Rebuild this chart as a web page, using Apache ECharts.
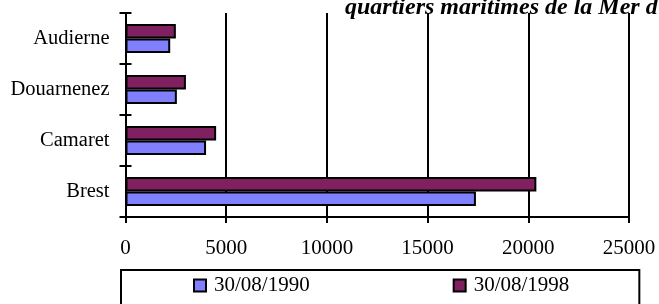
<!DOCTYPE html>
<html>
<head>
<meta charset="utf-8">
<script src="https://cdn.jsdelivr.net/npm/echarts@6/dist/echarts.min.js"></script>
<style>
html, body { margin: 0; padding: 0; background: #fff; }
#chart { width: 659px; height: 304px; }
</style>
</head>
<body>
<div id="chart"></div>
<script>
var categories = ['Brest', 'Camaret', 'Douarnenez', 'Audierne'];
var seriesNames = ['30/08/1990', '30/08/1998'];
var values1990 = [17400, 4000, 2550, 2220];
var values1998 = [20400, 4500, 3000, 2500];
var xTicks = [0, 5000, 10000, 15000, 20000, 25000];
var titleText = "quartiers maritimes de la Mer d'Iroise";

var font = '"Liberation Serif", "Times New Roman", serif';
var chart = echarts.init(document.getElementById('chart'));

var option = {
    animation: false,
    backgroundColor: '#fff',
    title: {
        text: titleText,
        left: 345,
        top: -4,
        padding: 0,
        textStyle: {
            fontFamily: font,
            fontSize: 24,
            fontWeight: 'bold',
            fontStyle: 'italic',
            color: '#000'
        }
    },
    grid: {
        left: 125.5,
        right: 30,
        top: 13,
        bottom: 87
    },
    legend: {
        data: seriesNames,
        left: 121,
        top: 270,
        padding: [5, 70, 40, 72],
        itemGap: 143,
        itemWidth: 12,
        itemHeight: 12,
        icon: 'rect',
        borderColor: '#000',
        borderWidth: 2,
        textStyle: {
            fontFamily: font,
            fontSize: 21,
            color: '#000',
            padding: [2, 0, 0, 3]
        }
    },
    xAxis: {
        type: 'value',
        min: xTicks[0],
        max: xTicks[xTicks.length - 1],
        interval: 5000,
        axisLine: { show: true, lineStyle: { color: '#000', width: 2 } },
        axisTick: { show: true, length: 6, lineStyle: { color: '#000', width: 2 } },
        axisLabel: {
            margin: 21,
            fontFamily: font,
            fontSize: 21,
            color: '#000',
            formatter: function (v) { return String(v); }
        },
        splitLine: { show: true, lineStyle: { color: '#000', width: 2 } }
    },
    yAxis: [
        {
            type: 'category',
            data: categories,
            axisLine: { show: true, lineStyle: { color: '#000', width: 2 } },
            axisTick: { show: true, length: 6, lineStyle: { color: '#000', width: 2 } },
            axisLabel: {
                margin: 16,
                fontFamily: font,
                fontSize: 20.5,
                color: '#000'
            }
        },
        {
            type: 'category',
            position: 'left',
            offset: 0,
            data: categories,
            axisLine: { show: false },
            axisTick: { show: true, inside: true, length: 6, lineStyle: { color: '#000', width: 2 } },
            axisLabel: { show: false }
        }
    ],
    // 1998 first so that it sits above 1990 in each band
    series: [
        {
            name: seriesNames[1],
            type: 'bar',
            data: values1998,
            barWidth: 14.5,
            barGap: '0%',
            itemStyle: { color: '#802060', borderColor: '#000', borderWidth: 2 }
        },
        {
            name: seriesNames[0],
            type: 'bar',
            data: values1990,
            barWidth: 14.5,
            barGap: '0%',
            itemStyle: { color: '#8080FF', borderColor: '#000', borderWidth: 2 }
        }
    ]
};
chart.setOption(option);
</script>
</body>
</html>
